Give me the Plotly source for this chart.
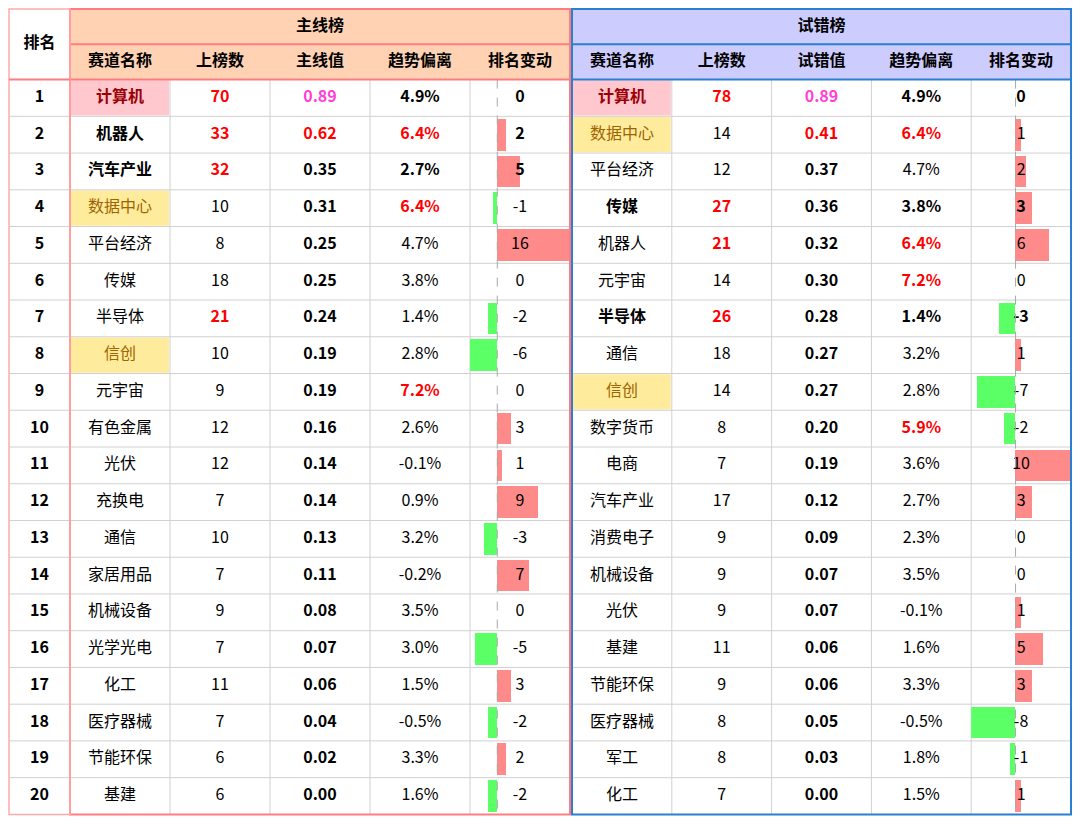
import plotly.graph_objects as go

# 数据：主线榜 / 试错榜
ranks = list(range(1, 21))

names_main = ["计算机", "机器人", "汽车产业", "数据中心", "平台经济", "传媒", "半导体", "信创", "元宇宙", "有色金属",
              "光伏", "充换电", "通信", "家居用品", "机械设备", "光学光电", "化工", "医疗器械", "节能环保", "基建"]
count_main = [70, 33, 32, 10, 8, 18, 21, 10, 9, 12, 12, 7, 10, 7, 9, 7, 11, 7, 6, 6]
value_main = [0.89, 0.62, 0.35, 0.31, 0.25, 0.25, 0.24, 0.19, 0.19, 0.16,
              0.14, 0.14, 0.13, 0.11, 0.08, 0.07, 0.06, 0.04, 0.02, 0.00]
trend_main = [4.9, 6.4, 2.7, 6.4, 4.7, 3.8, 1.4, 2.8, 7.2, 2.6, -0.1, 0.9, 3.2, -0.2, 3.5, 3.0, 1.5, -0.5, 3.3, 1.6]
change_main = [0, 2, 5, -1, 16, 0, -2, -6, 0, 3, 1, 9, -3, 7, 0, -5, 3, -2, 2, -2]
bold_main = [1, 2, 3]

names_trial = ["计算机", "数据中心", "平台经济", "传媒", "机器人", "元宇宙", "半导体", "通信", "信创", "数字货币",
               "电商", "汽车产业", "消费电子", "机械设备", "光伏", "基建", "节能环保", "医疗器械", "军工", "化工"]
count_trial = [78, 14, 12, 27, 21, 14, 26, 18, 14, 8, 7, 17, 9, 9, 9, 11, 9, 8, 8, 7]
value_trial = [0.89, 0.41, 0.37, 0.36, 0.32, 0.30, 0.28, 0.27, 0.27, 0.20,
               0.19, 0.12, 0.09, 0.07, 0.07, 0.06, 0.06, 0.05, 0.03, 0.00]
trend_trial = [4.9, 6.4, 4.7, 3.8, 6.4, 7.2, 1.4, 3.2, 2.8, 5.9, 3.6, 2.7, 2.3, 3.5, -0.1, 1.6, 3.3, -0.5, 1.8, 1.5]
change_trial = [0, 1, 2, 3, 6, 0, -3, 1, -7, -2, 10, 3, 0, 0, 1, 5, 3, -8, -1, 1]
bold_trial = [1, 4, 7]

pink_tags = ["计算机"]
yellow_tags = ["数据中心", "信创"]

headers_main = ["赛道名称", "上榜数", "主线值", "趋势偏离", "排名变动"]
headers_trial = ["赛道名称", "上榜数", "试错值", "趋势偏离", "排名变动"]

FONT = "Microsoft YaHei, Noto Sans CJK SC, sans-serif"
BLACK = "#000000"
RED = "#FF0000"
MAGENTA = "#FF3FD8"
PINK_FILL, PINK_TXT = "#FFC7CE", "#9C0006"
YELLOW_FILL, YELLOW_TXT = "#FFEB9C", "#9C6500"
RED_LINE, PINK_LINE, BLUE_LINE, GRID = "#FF7C80", "#FFAAAA", "#2B7FD0", "#D0D0D0"
BAR_POS, BAR_NEG = "#FF8A8A", "#5BFF66"

# 版面（页面像素，页面 body 自带 8px 边距）
PAGE_W, PAGE_H, BODY = 1080, 823, 8
FIG_W, FIG_H = PAGE_W - BODY, PAGE_H - BODY
rank_x = (9, 70)
edges_main = [70 + 100 * i for i in range(6)]
edges_trial = [572 + 99.8 * i for i in range(6)]
data_bottom_px, row_px = 814.4, 36.74
table_top_px = 9


def px_to_row(p):
    return 20.5 - (data_bottom_px - p) / row_px


HEAD_TOP = px_to_row(table_top_px)
HEAD_MID = (HEAD_TOP + 0.5) / 2

fig = go.Figure()
shapes = []


def rect(x0, x1, y0, y1, fill=None, line=None, width=0, layer="below"):
    shapes.append(dict(type="rect", xref="x", yref="y", x0=x0, x1=x1, y0=y0, y1=y1,
                       fillcolor=fill or "rgba(0,0,0,0)", layer=layer,
                       line=dict(color=line or "rgba(0,0,0,0)", width=width)))


def hline(x0, x1, y, color, width, layer="below"):
    shapes.append(dict(type="line", xref="x", yref="y", x0=x0, x1=x1, y0=y, y1=y,
                       layer=layer, line=dict(color=color, width=width)))


def vline(x, y0, y1, color, width, layer="below", dash="solid", xref="x"):
    shapes.append(dict(type="line", xref=xref, yref="y", x0=x, x1=x, y0=y0, y1=y1,
                       layer=layer, line=dict(color=color, width=width, dash=dash)))


def add_text(xs, ys, texts, colors, size=16, xaxis="x"):
    fig.add_trace(go.Scatter(x=xs, y=ys, text=texts, mode="text", textposition="middle center",
                             xaxis=xaxis, yaxis="y",
                             textfont=dict(family=FONT, size=size, color=colors),
                             hoverinfo="skip", showlegend=False, cliponaxis=False))


def centers(edges):
    return [(edges[i] + edges[i + 1]) / 2 for i in range(len(edges) - 1)]


def b(s, on):
    return f"<b>{s}</b>" if on else s


def section(edges, title, heads, names, counts, values, trends, changes, bold_rows,
            head_fill, border, bar_axis, bar_range):
    x_l, x_r = edges[0], edges[-1]
    cx = centers(edges)
    rect(x_l, x_r, HEAD_TOP, 0.5, fill=head_fill)
    for r, n in zip(ranks, names):
        if n in pink_tags:
            rect(edges[0] + 1, edges[1] - 1, r - 0.48, r + 0.48, fill=PINK_FILL)
        elif n in yellow_tags:
            rect(edges[0] + 1, edges[1] - 1, r - 0.48, r + 0.48, fill=YELLOW_FILL)
    for r in ranks[:-1]:
        hline(x_l, x_r, r + 0.5, GRID, 1)
    for e in edges[1:-1]:
        vline(e, 0.5, 20.5, GRID, 1)
    vline(0, 0.5, 20.5, "#A8A8A8", 1, layer="above", dash="dash", xref=bar_axis)

    rect(x_l, x_r, HEAD_TOP, 20.5, line=border, width=2, layer="above")
    hline(x_l, x_r, HEAD_MID, border, 2, layer="above")
    hline(x_l, x_r, 0.5, border, 2, layer="above")

    add_text([(x_l + x_r) / 2], [(HEAD_TOP + HEAD_MID) / 2], [f"<b>{title}</b>"], [BLACK])
    add_text(cx, [(HEAD_MID + 0.5) / 2] * 5, [f"<b>{h}</b>" for h in heads], [BLACK] * 5)

    bold = [r in bold_rows for r in ranks]
    vmax = max(values)
    add_text([cx[0]] * 20, ranks, [b(n, o) for n, o in zip(names, bold)],
             [PINK_TXT if n in pink_tags else YELLOW_TXT if n in yellow_tags else BLACK for n in names])
    add_text([cx[1]] * 20, ranks, [b(c, o or c >= 20) for c, o in zip(counts, bold)],
             [RED if c >= 20 else BLACK for c in counts])
    add_text([cx[2]] * 20, ranks, [b(f"{v:.2f}", True) for v in values],
             [MAGENTA if v == vmax else RED if v >= 0.4 else BLACK for v in values])
    add_text([cx[3]] * 20, ranks, [b(f"{t:.1f}%", o or t > 5) for t, o in zip(trends, bold)],
             [RED if t > 5 else BLACK for t in trends])

    fig.add_trace(go.Bar(x=changes, y=ranks, orientation="h", xaxis=bar_axis, yaxis="y", width=0.86,
                         marker=dict(color=[BAR_POS if c > 0 else BAR_NEG for c in changes], line_width=0),
                         hoverinfo="skip", showlegend=False))
    # 标签放在条形图坐标轴的中点（即该列中心）
    mid = sum(bar_range) / 2
    add_text([mid] * 20, ranks, [b(c, o) for c, o in zip(changes, bold)], [BLACK] * 20, xaxis=bar_axis)
    return dict(range=bar_range, domain=[(edges[4] - BODY) / FIG_W, (edges[5] - BODY) / FIG_W])


ax2 = section(edges_main, "主线榜", headers_main, names_main, count_main, value_main, trend_main, change_main,
              bold_main, "#FFD2B4", RED_LINE, "x2", [-6, 16])
ax3 = section(edges_trial, "试错榜", headers_trial, names_trial, count_trial, value_trial, trend_trial,
              change_trial, bold_trial, "#CCCCFF", BLUE_LINE, "x3", [-8, 10])

# 排名列
for r in ranks[:-1]:
    hline(rank_x[0], rank_x[1], r + 0.5, GRID, 1)
rect(rank_x[0], rank_x[1], HEAD_TOP, 20.5, line=PINK_LINE, width=1.5, layer="above")
hline(rank_x[0], rank_x[1], 0.5, RED_LINE, 2, layer="above")
rcx = (rank_x[0] + rank_x[1]) / 2
add_text([rcx], [(HEAD_TOP + 0.5) / 2], ["<b>排名</b>"], [BLACK])
add_text([rcx] * 20, ranks, [f"<b>{r}</b>" for r in ranks], [BLACK] * 20)

y_top = px_to_row(BODY)
y_bot = px_to_row(PAGE_H)
hidden = dict(visible=False, showgrid=False, zeroline=False, fixedrange=True)

fig.update_layout(
    width=FIG_W, height=FIG_H, margin=dict(l=0, r=0, t=0, b=0, pad=0),
    paper_bgcolor="white", plot_bgcolor="rgba(0,0,0,0)",
    barmode="overlay", bargap=0,
    xaxis=dict(range=[BODY, PAGE_W], domain=[0, 1], **hidden),
    yaxis=dict(range=[y_bot, y_top], domain=[0, 1], **hidden),
    xaxis2=dict(anchor="y", **ax2, **hidden),
    xaxis3=dict(anchor="y", **ax3, **hidden),
    shapes=shapes,
    font=dict(family=FONT),
)

fig.write_html("out.html")
